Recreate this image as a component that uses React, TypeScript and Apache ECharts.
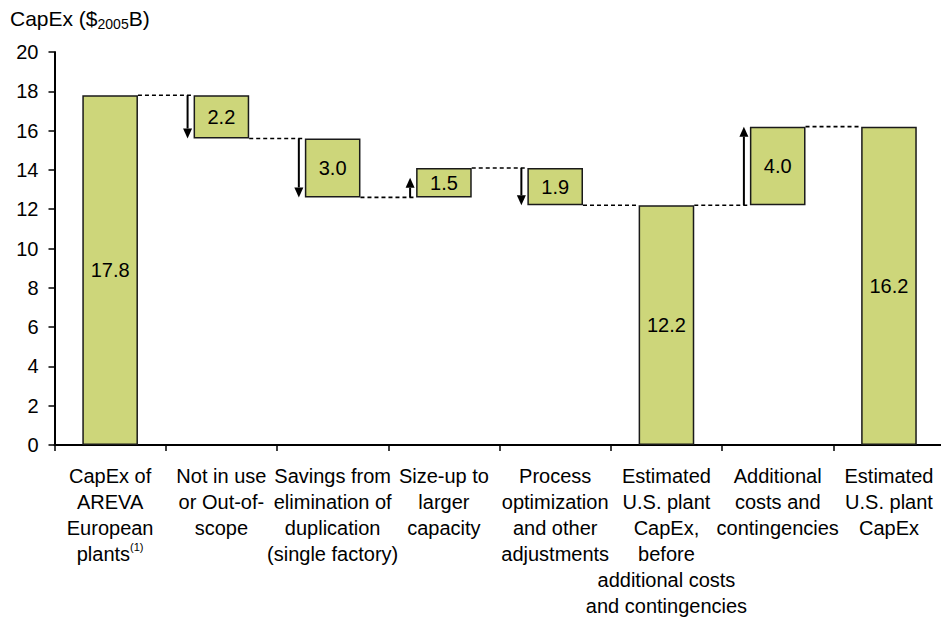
import React, { useEffect, useRef } from "react";
import * as echarts from "echarts";

const categories = [
  "CapEx of\nAREVA\nEuropean\nplants(1)",
  "Not in use\nor Out-of-\nscope",
  "Savings from\nelimination of\nduplication\n(single factory)",
  "Size-up to\nlarger\ncapacity",
  "Process\noptimization\nand other\nadjustments",
  "Estimated\nU.S. plant\nCapEx,\nbefore\nadditional costs\nand contingencies",
  "Additional\ncosts and\ncontingencies",
  "Estimated\nU.S. plant\nCapEx",
];

// invisible base of each bar (waterfall offset)
const baseValues = [0, 15.6, 12.6, 12.6, 12.2, 0, 12.2, 0];
// visible bar heights
const barValues = [17.8, 2.2, 3.0, 1.5, 1.9, 12.2, 4.0, 16.2];
// dashed connector levels between bar i and bar i+1
const connectorLevels = [17.8, 15.6, 12.6, 14.1, 12.2, 12.2, 16.2];
// arrows: [category index, from value, to value]
const arrows = [
  [1, 17.8, 15.6],
  [2, 15.6, 12.6],
  [3, 12.6, 13.6],
  [4, 14.1, 12.2],
  [6, 12.2, 16.2],
];
const yTicks = { min: 0, max: 20, interval: 2 };

const FONT = "'Liberation Sans', Arial, sans-serif";

export default function App() {
  const ref = useRef<HTMLDivElement>(null);
  useEffect(() => {
    if (!ref.current) return;
    const chart = echarts.init(ref.current, undefined, { renderer: "svg" });
    chart.setOption({
      animation: false,
      backgroundColor: "#fff",
      textStyle: { fontFamily: FONT },
      title: {
        text: "CapEx ($" + "{sub|2005}" + "B)",
        left: 10,
        top: 5,
        padding: 0,
        textStyle: {
          fontFamily: FONT,
          fontSize: 21,
          fontWeight: "normal",
          color: "#000",
          lineHeight: 26,
          rich: {
            sub: {
              fontFamily: FONT,
              fontSize: 14,
              color: "#000",
              lineHeight: 14,
              padding: [12, 0, 0, 0],
              verticalAlign: "bottom",
            },
          },
        },
      },
      grid: { left: 54.5, right: 1.4, top: 52, bottom: 173, containLabel: false },
      xAxis: {
        type: "category",
        data: categories,
        boundaryGap: true,
        axisLine: { show: true, lineStyle: { color: "#000", width: 2 } },
        axisTick: { show: true, length: 6, lineStyle: { color: "#000", width: 1.5 } },
        axisLabel: {
          interval: 0,
          margin: 18,
          color: "#000",
          fontFamily: FONT,
          fontSize: 20,
          lineHeight: 26,
          formatter: (v: string) => v.replace("(1)", "{sup|(1)}"),
          rich: {
            sup: {
              fontFamily: FONT,
              fontSize: 11,
              color: "#000",
              verticalAlign: "top",
              lineHeight: 26,
            },
          },
        },
        splitLine: { show: false },
      },
      yAxis: {
        type: "value",
        min: yTicks.min,
        max: yTicks.max,
        interval: yTicks.interval,
        axisLine: { show: true, lineStyle: { color: "#000", width: 2 } },
        axisTick: { show: true, length: 6, lineStyle: { color: "#000", width: 1.5 } },
        axisLabel: { color: "#000", fontFamily: FONT, fontSize: 20, margin: 16 },
        splitLine: { show: false },
      },
      series: [
        {
          type: "custom",
          name: "connectors",
          silent: true,
          z: 1,
          data: connectorLevels.map((v, i) => [i, v]),
          encode: { x: 0, y: 1 },
          renderItem: (params: any, api: any) => {
            const i = api.value(0);
            const level = api.value(1);
            const w = api.size([1, 0])[0];
            const p = api.coord([i, level]);
            return {
              type: "line",
              shape: { x1: p[0] + w * 0.25, y1: p[1], x2: p[0] + w * 0.75, y2: p[1] },
              style: { stroke: "#000", lineWidth: 1.6, lineDash: [4, 3], fill: null },
            };
          },
        },
        {
          type: "bar",
          name: "base",
          stack: "total",
          silent: true,
          barWidth: "50%",
          itemStyle: { color: "transparent", borderWidth: 0 },
          data: baseValues,
        },
        {
          type: "bar",
          name: "value",
          stack: "total",
          barWidth: "50%",
          itemStyle: { color: "#cdd67a", borderColor: "#1a1a1a", borderWidth: 1.5 },
          label: {
            show: true,
            position: "inside",
            color: "#000",
            fontFamily: FONT,
            fontSize: 20,
            formatter: (p: any) => Number(p.value).toFixed(1),
          },
          data: barValues,
          z: 3,
        },
        {
          type: "custom",
          name: "arrows",
          silent: true,
          z: 4,
          data: arrows,
          encode: { x: 0, y: [1, 2] },
          renderItem: (params: any, api: any) => {
            const i = api.value(0);
            const from = api.value(1);
            const to = api.value(2);
            const w = api.size([1, 0])[0];
            const x = api.coord([i, 0])[0] - w * 0.25 - 6;
            const y1 = api.coord([i, from])[1];
            const y2 = api.coord([i, to])[1];
            const dir = y2 > y1 ? 1 : -1;
            const head = 10;
            const hw = 4.5;
            return {
              type: "group",
              children: [
                {
                  type: "line",
                  shape: { x1: x, y1: y1, x2: x, y2: y2 - dir * head },
                  style: { stroke: "#000", lineWidth: 2 },
                },
                {
                  type: "polygon",
                  shape: {
                    points: [
                      [x - hw, y2 - dir * head],
                      [x + hw, y2 - dir * head],
                      [x, y2],
                    ],
                  },
                  style: { fill: "#000" },
                },
              ],
            };
          },
        },
      ],
    });
    return () => chart.dispose();
  }, []);
  return (
    <div style={{ position: "fixed", left: 0, top: 0, width: 941, height: 619, overflow: "hidden", background: "#fff" }}>
      <div ref={ref} style={{ width: 946, height: 619 }} />
    </div>
  );
}
